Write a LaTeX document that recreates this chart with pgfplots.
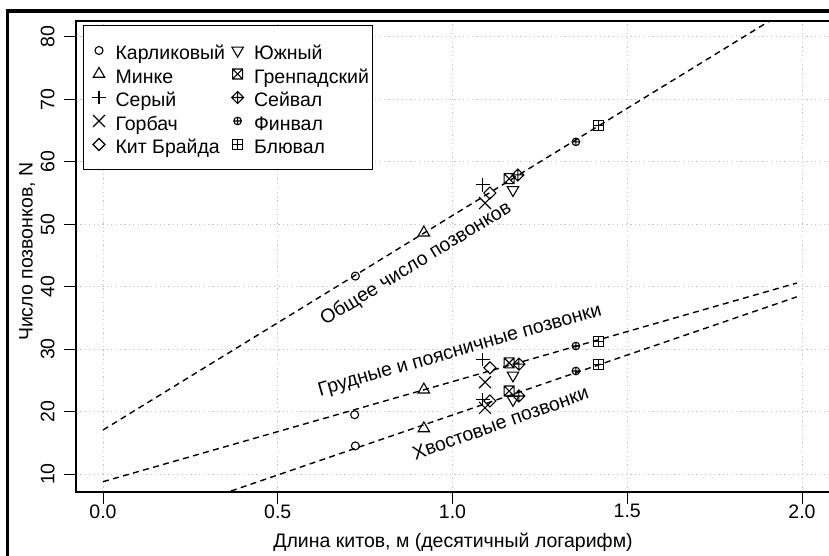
\documentclass[border=0pt]{standalone}
\usepackage{fontspec}
\setmainfont{Liberation Sans}
\usepackage{pgfplots}
\pgfplotsset{compat=1.18}
\usetikzlibrary{plotmarks}

\pgfdeclareplotmark{boxtimes}{%
  \pgfpathrectangle{\pgfqpoint{-\pgfplotmarksize}{-\pgfplotmarksize}}{\pgfqpoint{2\pgfplotmarksize}{2\pgfplotmarksize}}%
  \pgfpathmoveto{\pgfqpoint{-\pgfplotmarksize}{-\pgfplotmarksize}}%
  \pgfpathlineto{\pgfqpoint{\pgfplotmarksize}{\pgfplotmarksize}}%
  \pgfpathmoveto{\pgfqpoint{-\pgfplotmarksize}{\pgfplotmarksize}}%
  \pgfpathlineto{\pgfqpoint{\pgfplotmarksize}{-\pgfplotmarksize}}%
  \pgfusepathqstroke}
\pgfdeclareplotmark{boxplus}{%
  \pgfpathrectangle{\pgfqpoint{-\pgfplotmarksize}{-\pgfplotmarksize}}{\pgfqpoint{2\pgfplotmarksize}{2\pgfplotmarksize}}%
  \pgfpathmoveto{\pgfqpoint{0pt}{-\pgfplotmarksize}}%
  \pgfpathlineto{\pgfqpoint{0pt}{\pgfplotmarksize}}%
  \pgfpathmoveto{\pgfqpoint{-\pgfplotmarksize}{0pt}}%
  \pgfpathlineto{\pgfqpoint{\pgfplotmarksize}{0pt}}%
  \pgfusepathqstroke}
\pgfdeclareplotmark{rdiamond}{%
  \pgfpathmoveto{\pgfqpoint{0pt}{\pgfplotmarksize}}%
  \pgfpathlineto{\pgfqpoint{\pgfplotmarksize}{0pt}}%
  \pgfpathlineto{\pgfqpoint{0pt}{-\pgfplotmarksize}}%
  \pgfpathlineto{\pgfqpoint{-\pgfplotmarksize}{0pt}}%
  \pgfpathclose
  \pgfusepathqstroke}
\pgfdeclareplotmark{diamondplus}{%
  \pgfpathmoveto{\pgfqpoint{0pt}{\pgfplotmarksize}}%
  \pgfpathlineto{\pgfqpoint{\pgfplotmarksize}{0pt}}%
  \pgfpathlineto{\pgfqpoint{0pt}{-\pgfplotmarksize}}%
  \pgfpathlineto{\pgfqpoint{-\pgfplotmarksize}{0pt}}%
  \pgfpathclose
  \pgfpathmoveto{\pgfqpoint{0pt}{-\pgfplotmarksize}}%
  \pgfpathlineto{\pgfqpoint{0pt}{\pgfplotmarksize}}%
  \pgfpathmoveto{\pgfqpoint{-\pgfplotmarksize}{0pt}}%
  \pgfpathlineto{\pgfqpoint{\pgfplotmarksize}{0pt}}%
  \pgfusepathqstroke}

\newcommand{\fnt}{\fontsize{9.75}{11.7}\selectfont}

\begin{document}
\begin{tikzpicture}[font=\fnt]
\useasboundingbox (0,0) rectangle (414.5pt,278pt);
\clip (0,0) rectangle (414.5pt,278pt);
\begin{axis}[
  at={(38pt,32pt)}, anchor=south west,
  scale only axis, width=377pt, height=235.5pt,
  xmin=-0.0773, xmax=2.0801, ymin=7.117, ymax=82.56,
  xtick={0,0.5,1,1.5,2}, xticklabels={0.0,0.5,1.0,1.5,2.0},
  ytick={10,20,30,40,50,60,70,80}, yticklabels={10,20,30,40,50,60,70,80},
  tick pos=left, tick align=outside, major tick length=6pt,
  tick style={black, line width=0.5pt},
  axis line style={black, line width=0.55pt},
  grid=major,
  major grid style={gray!45, line width=0.5pt, dash pattern=on 0.6pt off 1.6pt},
  /pgf/number format/assume math mode=true,
  xticklabel style={font=\fnt, anchor=north, inner sep=0pt},
  yticklabel style={font=\fnt, rotate=90, anchor=base, inner sep=0pt},
  yticklabel shift=4.75pt,
  xlabel={Длина китов, м (десятичный логарифм)},
  ylabel={Число позвонков, N},
  xlabel style={font=\fnt, at={(axis description cs:0.5,0)}, anchor=base, yshift=-27.5pt, inner sep=0pt},
  ylabel style={font=\fnt, at={(axis description cs:-0.0575,0.51)}, anchor=base, inner sep=0pt},
  legend columns=2,
  legend cell align=left,
  legend image code/.code={\path (-5.5pt,0pt) (3pt,0pt); \draw[#1] plot coordinates {(0pt,0pt)};},
  legend style={at={(0.0093,0.9915)}, anchor=north west, draw=black, line width=0.5pt,
    font=\fnt, inner xsep=2pt, inner ysep=7.75pt, row sep=2.25pt,
    nodes={inner sep=0pt, text height=9.5pt, text depth=0pt},
    /tikz/every odd column/.append style={column sep=5pt},
    /tikz/every even column/.append style={column sep=0.5pt}},
  every axis plot/.append style={black},
]
% regression lines
\addplot[forget plot, black, line width=0.7pt, dash pattern=on 3pt off 2.2pt] coordinates {(0,17.05) (2,85.75)};
\addplot[forget plot, black, line width=0.7pt, dash pattern=on 3pt off 2.2pt] coordinates {(0,8.77) (1.985,40.59)};
\addplot[forget plot, black, line width=0.7pt, dash pattern=on 3pt off 2.2pt] coordinates {(0,0.24) (1.985,38.37)};

% species (total, thoracic+lumbar, caudal)
\addplot[only marks, mark=o, mark size=2pt, mark options={line width=0.55pt}] coordinates {(0.722,41.7) (0.720,19.5) (0.722,14.5)};
\addlegendentry{Карликовый}
\addplot[only marks, mark=triangle, mark size=3.3pt, mark options={line width=0.55pt, rotate=180}] coordinates {(1.173,55.5) (1.173,25.8) (1.173,21.9)};
\addlegendentry{Южный}
\addplot[only marks, mark=triangle, mark size=3.3pt, mark options={line width=0.55pt}] coordinates {(0.918,48.65) (0.918,23.5) (0.918,17.3)};
\addlegendentry{Минке}
\addplot[only marks, mark=boxtimes, mark size=2.5pt, mark options={line width=0.55pt}] coordinates {(1.162,57.3) (1.162,27.8) (1.162,23.3)};
\addlegendentry{Гренпадский}
\addplot[only marks, mark=+, mark size=3.3pt, mark options={line width=0.55pt}] coordinates {(1.087,56.3) (1.087,28.3) (1.087,21.9)};
\addlegendentry{Серый}
\addplot[only marks, mark=diamondplus, mark size=3pt, mark options={line width=0.55pt}] coordinates {(1.187,57.9) (1.190,27.6) (1.190,22.5)};
\addlegendentry{Сейвал}
\addplot[only marks, mark=x, mark size=4.2pt, mark options={line width=0.55pt}] coordinates {(1.093,53.4) (1.093,24.7) (1.093,20.6)};
\addlegendentry{Горбач}
\addplot[only marks, mark=oplus, mark size=1.9pt, mark options={line width=0.55pt}] coordinates {(1.353,63.2) (1.353,30.5) (1.353,26.5)};
\addlegendentry{Финвал}
\addplot[only marks, mark=rdiamond, mark size=3pt, mark options={line width=0.55pt}] coordinates {(1.107,55.0) (1.107,27.0) (1.107,21.7)};
\addlegendentry{Кит Брайда}
\addplot[only marks, mark=boxplus, mark size=2.5pt, mark options={line width=0.55pt}] coordinates {(1.418,65.8) (1.417,31.2) (1.418,27.6)};
\addlegendentry{Блювал}

\node[rotate=31.5, inner sep=0pt, font=\fnt] at (axis cs:0.8956,43.64) {Общее число позвонков};
\node[rotate=16, inner sep=0pt, font=\fnt] at (axis cs:1.0215,29.7) {Грудные и поясничные позвонки};
\node[rotate=19.5, inner sep=0pt, font=\fnt] at (axis cs:1.137,18.17) {Хвостовые позвонки};
\end{axis}
\draw[line width=1.65pt, black] (3.85pt,0pt) -- (3.85pt,272.5pt) -- (414.5pt,272.5pt);
\end{tikzpicture}
\end{document}
